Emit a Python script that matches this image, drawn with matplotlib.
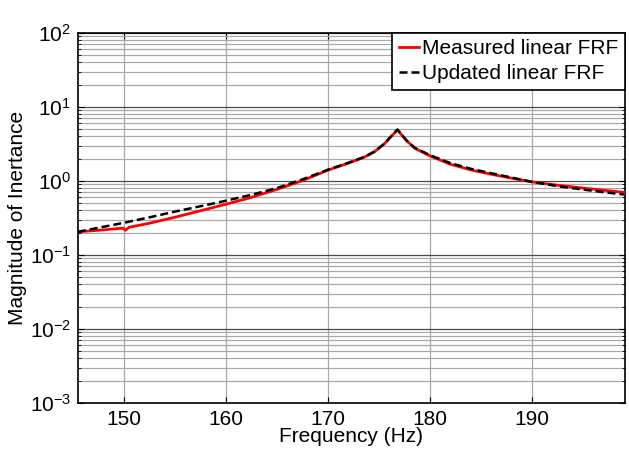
import matplotlib
matplotlib.use("Agg")
import matplotlib.pyplot as plt
from matplotlib.ticker import LogLocator, NullFormatter

plt.rcParams['font.family'] = ['Liberation Sans', 'DejaVu Sans']
plt.rcParams['mathtext.default'] = 'regular'

# frequencies (Hz) and magnitudes
freq_meas = [145.5, 148.0, 149.9, 150.15, 150.5, 152.5, 155.0, 157.5, 160.0, 162.5,
             165.0, 167.5, 170.0, 172.0, 173.5, 174.5, 175.5, 176.2, 176.8, 177.7, 178.5,
             180.0, 182.0, 184.0, 186.0, 188.0, 190.0, 192.5, 195.0, 197.0, 199.0]
mag_meas = [0.205, 0.218, 0.230, 0.215, 0.236, 0.268, 0.323, 0.395, 0.484, 0.60,
            0.77, 1.01, 1.40, 1.74, 2.08, 2.45, 3.15, 4.00, 4.89, 3.50, 2.77,
            2.18, 1.68, 1.41, 1.23, 1.09, 0.97, 0.875, 0.80, 0.75, 0.70]

freq_upd = [145.5, 148.0, 150.0, 152.5, 155.0, 157.5, 160.0, 162.5, 165.0, 167.5,
            170.0, 172.0, 173.5, 174.5, 175.5, 176.2, 176.8, 177.7, 178.5, 180.0, 182.0,
            184.0, 186.0, 188.0, 190.0, 192.5, 195.0, 197.0, 199.0]
mag_upd = [0.205, 0.240, 0.272, 0.322, 0.385, 0.455, 0.540, 0.650, 0.80, 1.05,
           1.42, 1.76, 2.10, 2.47, 3.17, 4.03, 4.95, 3.52, 2.80, 2.23, 1.74,
           1.46, 1.27, 1.11, 0.97, 0.85, 0.765, 0.705, 0.655]

fig = plt.figure(figsize=(6.29, 4.62), dpi=100)
ax = fig.add_axes([0.124, 0.128, 0.8696, 0.8006])

ax.semilogy(freq_meas, mag_meas, color='red', lw=2.0, label='Measured linear FRF', zorder=3)
ax.semilogy(freq_upd, mag_upd, color='black', lw=1.8, ls=(0, (3.2, 1.6)),
            label='Updated linear FRF', zorder=4)

ax.set_xlim(145.5, 199.1)
ax.set_ylim(1e-3, 1e2)
ax.set_xticks([150, 160, 170, 180, 190])
ax.yaxis.set_major_locator(LogLocator(base=10, numticks=10))
ax.yaxis.set_minor_locator(LogLocator(base=10, subs=range(2, 10), numticks=10))
ax.yaxis.set_minor_formatter(NullFormatter())

ax.grid(True, which='major', axis='x', color='#a8a8a8', lw=0.9)
ax.grid(True, which='major', axis='y', color='#4a4a4a', lw=0.9)
ax.grid(True, which='minor', axis='y', color='#a8a8a8', lw=0.9)
ax.set_axisbelow(True)

ax.tick_params(which='both', direction='in', top=True, right=True, labelsize=15)
ax.tick_params(which='major', length=4, pad=5)
ax.tick_params(which='minor', length=2)
for sp in ax.spines.values():
    sp.set_linewidth(1.2)

ax.set_xlabel('Frequency (Hz)', fontsize=15, labelpad=-1)
ax.set_ylabel('Magnitude of Inertance', fontsize=15, labelpad=2)

leg = ax.legend(loc='upper right', fontsize=15, fancybox=False, framealpha=1,
                edgecolor='black', borderaxespad=0, handlelength=1.0,
                handletextpad=0.15, borderpad=0.3, labelspacing=0.3)
leg.get_frame().set_linewidth(1.2)

fig.savefig('out.png', dpi=100)
